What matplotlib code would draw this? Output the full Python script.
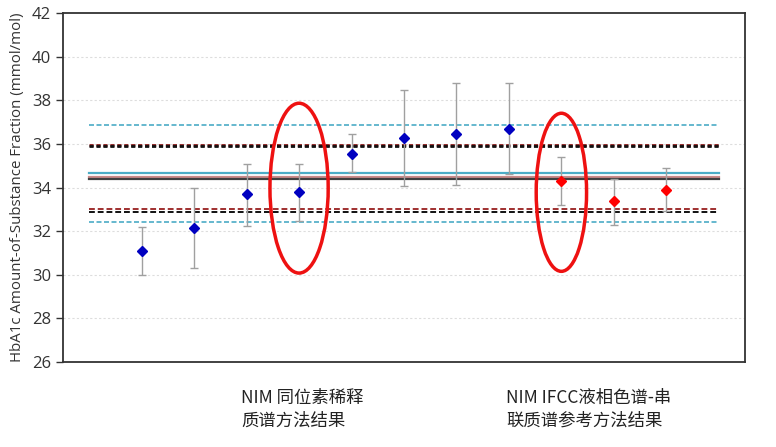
import matplotlib
matplotlib.use("Agg")
import matplotlib.pyplot as plt
from matplotlib.patches import Ellipse

plt.rcParams['font.family'] = ['Open Sans', 'DejaVu Sans']

# Data
x_pos = [1, 2, 3, 4, 5, 6, 7, 8, 9, 10, 11]
values = [31.1, 32.13, 33.68, 33.78, 35.53, 36.28, 36.45, 36.68, 34.29, 33.38, 33.89]
err_hi = [32.2, 33.98, 35.09, 35.09, 36.44, 38.5, 38.8, 38.78, 35.41, 34.41, 34.89]
err_lo = [30.0, 30.32, 32.25, 32.47, 34.69, 34.06, 34.12, 34.61, 33.19, 32.27, 32.91]
point_colors = ['#0000C0'] * 8 + ['#FF0000'] * 3

# Reference lines: (value, color, style)
ref_values = [36.88, 35.95, 35.9, 34.67, 34.47, 34.38, 33.0, 32.86, 32.42]
ref_colors = ['#4BACC6', '#8B1A1A', '#111111', '#4BACC6', '#C98A8A', '#404040',
              '#A03030', '#111111', '#4BACC6']
ref_styles = ['dashed', 'dotted', 'dotted', 'solid', 'solid', 'solid',
              'dashed', 'dashed', 'dashed']
ref_widths = [1.2, 2.0, 2.0, 1.6, 1.6, 1.6, 1.4, 1.4, 1.2]
line_start, line_end = 0, 12

yticks = [26, 28, 30, 32, 34, 36, 38, 40, 42]
ylabel = 'HbA1c Amount-of-Substance Fraction (mmol/mol)'
label_left = 'NIM 同位素稀释\n质谱方法结果'
label_right = 'NIM IFCC液相色谱-串\n联质谱参考方法结果'

fig = plt.figure(figsize=(7.76, 4.47), dpi=100)
ax = fig.add_axes([63/776, 1 - 361.7/447, (745 - 63)/776, (361.7 - 13.3)/447])

ax.set_xlim(-0.5, 12.5)
ax.set_ylim(26, 42)

for yt in yticks[1:-1]:
    ax.axhline(yt, color='#DDDDDD', linestyle=(0, (2, 2)), linewidth=0.8, zorder=0)

for v, c, s, w in zip(ref_values, ref_colors, ref_styles, ref_widths):
    if s == 'dashed':
        ls = (0, (3, 1.5))
    elif s == 'dotted':
        ls = (0, (1.5, 1))
    else:
        ls = '-'
    ax.plot([line_start, line_end], [v, v], color=c, linestyle=ls, linewidth=w, zorder=2)

for x, v, hi, lo, c in zip(x_pos, values, err_hi, err_lo, point_colors):
    ax.errorbar([x], [v], yerr=[[v - lo], [hi - v]], fmt='none', ecolor='#A0A0A0',
                elinewidth=1.0, capsize=3, capthick=1.0, zorder=3)
    ax.plot([x], [v], marker='D', markersize=5.5, color=c, linestyle='none', zorder=4)

ax.add_patch(Ellipse((4.0, 33.97), 1.11, 7.8, fill=False, edgecolor='#EE1111', linewidth=2.5, zorder=5))
ax.add_patch(Ellipse((9.0, 33.78), 0.96, 7.26, fill=False, edgecolor='#EE1111', linewidth=2.5, zorder=5))

ax.set_yticks(yticks)
ax.set_xticks([])
ax.tick_params(axis='y', labelsize=12, labelcolor='#333333', length=5, color='#333333', width=1)
for sp in ax.spines.values():
    sp.set_color('#333333')
    sp.set_linewidth(1.3)
ax.set_ylabel(ylabel, fontsize=10.8, color='#333333', labelpad=5)

cjk = ['Noto Sans CJK SC', 'DejaVu Sans']
fig.text(241/776, 1 - 389/447, label_left, family=cjk, fontsize=12.5, color='#222222',
         va='top', ha='left', linespacing=1.35)
fig.text(506/776, 1 - 389/447, label_right, family=cjk, fontsize=12.5, color='#222222',
         va='top', ha='left', linespacing=1.35)

fig.savefig('out.png', dpi=100)
